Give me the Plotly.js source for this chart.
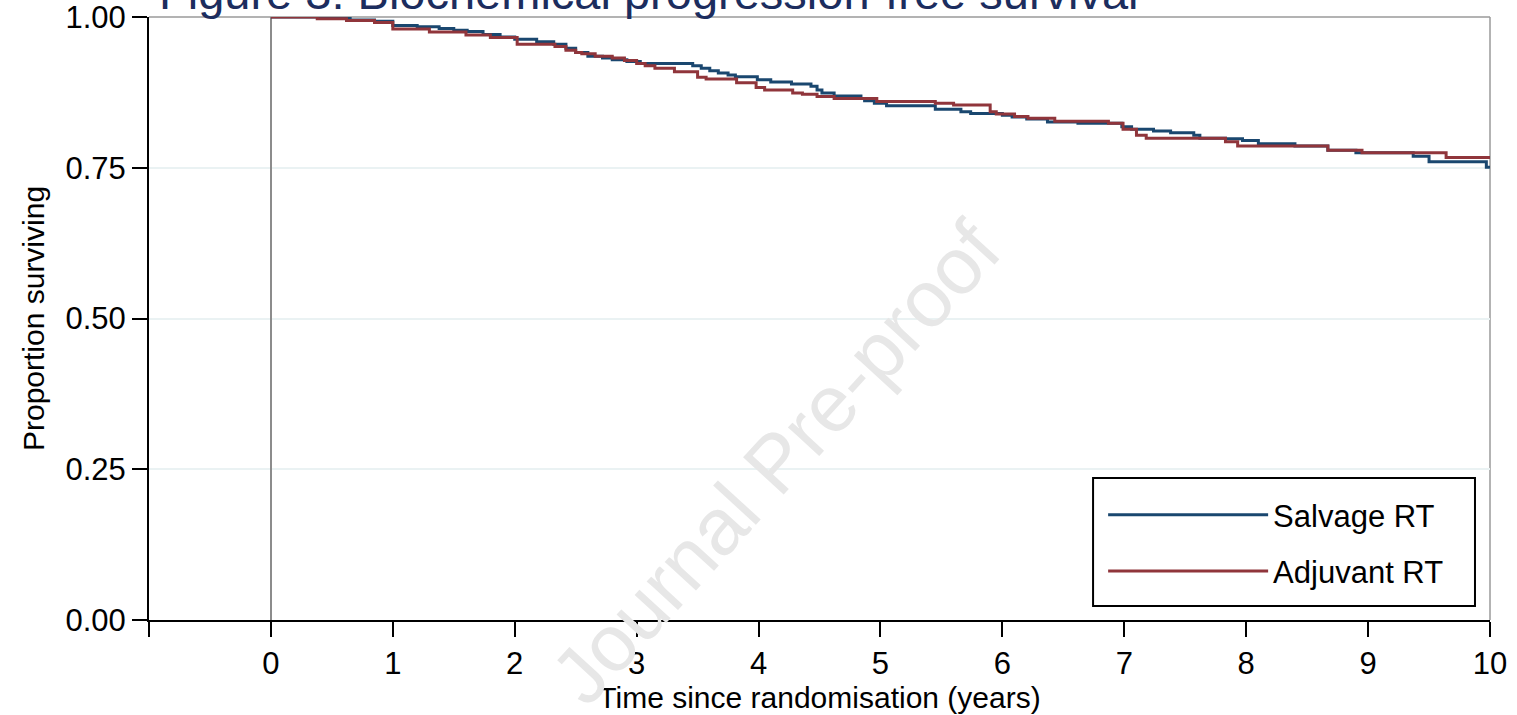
<!DOCTYPE html>
<html>
<head>
<meta charset="utf-8">
<script src="https://cdn.plot.ly/plotly-3.0.1.min.js"></script>
<style>html,body{margin:0;padding:0;background:#fff;}#chart{width:1517px;height:715px;}</style>
</head>
<body>
<div id="chart"></div>
<script>
// Kaplan-Meier step data
const salvageTime = [0, 0.40, 0.65, 0.85, 1.00, 1.20, 1.38, 1.50, 1.61, 1.74, 1.88, 2.00, 2.18, 2.32, 2.42, 2.50, 2.60, 2.72, 2.80, 2.92, 3.03, 3.46, 3.53, 3.60, 3.67, 3.75, 3.81, 3.99, 4.10, 4.27, 4.43, 4.48, 4.52, 4.62, 4.84, 4.87, 4.95, 5.05, 5.45, 5.66, 5.74, 6.00, 6.08, 6.20, 6.37, 6.62, 6.98, 7.06, 7.24, 7.38, 7.57, 7.62, 7.83, 7.97, 8.10, 8.40, 8.67, 8.90, 9.37, 9.50, 9.97, 10.0];
const salvageSurv = [1.000, 0.998, 0.995, 0.993, 0.986, 0.984, 0.981, 0.978, 0.976, 0.971, 0.967, 0.963, 0.959, 0.955, 0.948, 0.941, 0.935, 0.932, 0.929, 0.926, 0.923, 0.919, 0.915, 0.911, 0.907, 0.904, 0.901, 0.896, 0.892, 0.889, 0.885, 0.879, 0.874, 0.869, 0.865, 0.861, 0.857, 0.853, 0.847, 0.843, 0.840, 0.837, 0.834, 0.831, 0.826, 0.824, 0.818, 0.814, 0.811, 0.808, 0.804, 0.799, 0.798, 0.795, 0.790, 0.786, 0.779, 0.775, 0.769, 0.760, 0.751, 0.751];
const adjuvantTime = [0, 0.38, 0.62, 0.85, 1.00, 1.30, 1.60, 1.80, 2.02, 2.33, 2.42, 2.50, 2.55, 2.66, 2.80, 2.90, 3.00, 3.07, 3.15, 3.31, 3.50, 3.57, 3.82, 3.98, 4.05, 4.28, 4.36, 4.48, 4.62, 4.97, 5.45, 5.60, 5.90, 5.95, 6.10, 6.21, 6.43, 6.87, 6.99, 7.10, 7.18, 7.83, 7.93, 8.67, 8.95, 9.64, 10.0];
const adjuvantSurv = [1.000, 0.997, 0.994, 0.991, 0.980, 0.975, 0.970, 0.966, 0.955, 0.951, 0.945, 0.941, 0.939, 0.935, 0.932, 0.928, 0.923, 0.919, 0.915, 0.909, 0.900, 0.897, 0.891, 0.883, 0.879, 0.874, 0.872, 0.868, 0.865, 0.860, 0.857, 0.854, 0.843, 0.839, 0.835, 0.832, 0.827, 0.824, 0.814, 0.804, 0.799, 0.793, 0.786, 0.779, 0.775, 0.767, 0.767];
const seriesNames = ['Salvage RT', 'Adjuvant RT'];
const xTickVals = [-1, 0, 1, 2, 3, 4, 5, 6, 7, 8, 9, 10];
const xTickText = ['', '0', '1', '2', '3', '4', '5', '6', '7', '8', '9', '10'];
const yTickVals = [0, 0.25, 0.5, 0.75, 1];
const yTickText = ['0.00', '0.25', '0.50', '0.75', '1.00'];

const FONT = 'Liberation Sans, Arial, Helvetica, sans-serif';

const traces = [
  {x: salvageTime, y: salvageSurv, name: seriesNames[0], type: 'scatter', mode: 'lines',
   line: {shape: 'hv', color: '#1a476f', width: 3}, legendgroup: 'a'},
  {x: adjuvantTime, y: adjuvantSurv, name: seriesNames[1], type: 'scatter', mode: 'lines',
   line: {shape: 'hv', color: '#90353b', width: 3}, legendgroup: 'b'}
];

const layout = {
  width: 1517, height: 715,
  margin: {l: 149, r: 27, t: 17, b: 95},
  paper_bgcolor: '#ffffff', plot_bgcolor: '#ffffff',
  font: {family: FONT, size: 31, color: '#000000'},
  showlegend: true,
  legend: {
    x: 0.7115, y: 0.2189, xanchor: 'left', yanchor: 'top',
    borderwidth: 0, bgcolor: 'rgba(0,0,0,0)',
    font: {family: FONT, size: 31, color: '#000000'},
    itemwidth: 160, traceorder: 'grouped', tracegroupgap: 13
  },
  xaxis: {
    range: [-1, 10], tickmode: 'array', tickvals: xTickVals, ticktext: xTickText,
    showline: true, linecolor: '#000000', linewidth: 2,
    ticks: 'outside', ticklen: 15, tickwidth: 2, tickcolor: '#000000',
    showgrid: false, zeroline: true, zerolinecolor: '#8c8c8c', zerolinewidth: 1.5,
    tickfont: {family: FONT, size: 31, color: '#000000'}, ticklabeloverflow: 'allow',
    title: {text: 'Time since randomisation (years)', font: {family: FONT, size: 30, color: '#000000'}, standoff: 0},
    fixedrange: true
  },
  yaxis: {
    range: [0, 1], tickmode: 'array', tickvals: yTickVals, ticktext: yTickText,
    showline: true, linecolor: '#000000', linewidth: 2,
    ticks: 'outside', ticklen: 15, tickwidth: 2, tickcolor: '#000000',
    showgrid: true, gridcolor: '#eaf2f3', gridwidth: 2, zeroline: false,
    tickfont: {family: FONT, size: 31, color: '#000000'}, ticklabeloverflow: 'allow',
    title: {text: 'Proportion surviving', font: {family: FONT, size: 30, color: '#000000'}, standoff: 12},
    fixedrange: true
  },
  shapes: [
    {type: 'line', xref: 'paper', yref: 'paper', x0: 0, x1: 1, y0: 1, y1: 1, line: {color: '#9a9a9a', width: 1.5}, layer: 'below'},
    {type: 'line', xref: 'paper', yref: 'paper', x0: 1, x1: 1, y0: 0, y1: 1, line: {color: '#9a9a9a', width: 1.5}, layer: 'below'},
    {type: 'rect', xref: 'paper', yref: 'paper', x0: 0.7040, x1: 0.9888, y0: 0.0232, y1: 0.2355,
     line: {color: '#000000', width: 2}, fillcolor: 'rgba(0,0,0,0)', layer: 'above'}
  ],
  annotations: [
    {text: 'Figure 3: Biochemical progression-free survival', xref: 'paper', yref: 'paper', x: 0, y: 1,
     xanchor: 'left', yanchor: 'bottom', xshift: 8, yshift: -4, showarrow: false,
     font: {family: FONT, size: 47, color: '#1c2d5e'}},
    {text: 'Journal Pre-proof', xref: 'x', yref: 'y', x: 4.14, y: 0.262, textangle: -47.5,
     showarrow: false, font: {family: FONT, size: 80, color: '#e7e7e7'}}
  ]
};

Plotly.newPlot('chart', traces, layout, {displayModeBar: false, staticPlot: true});
</script>
</body>
</html>
